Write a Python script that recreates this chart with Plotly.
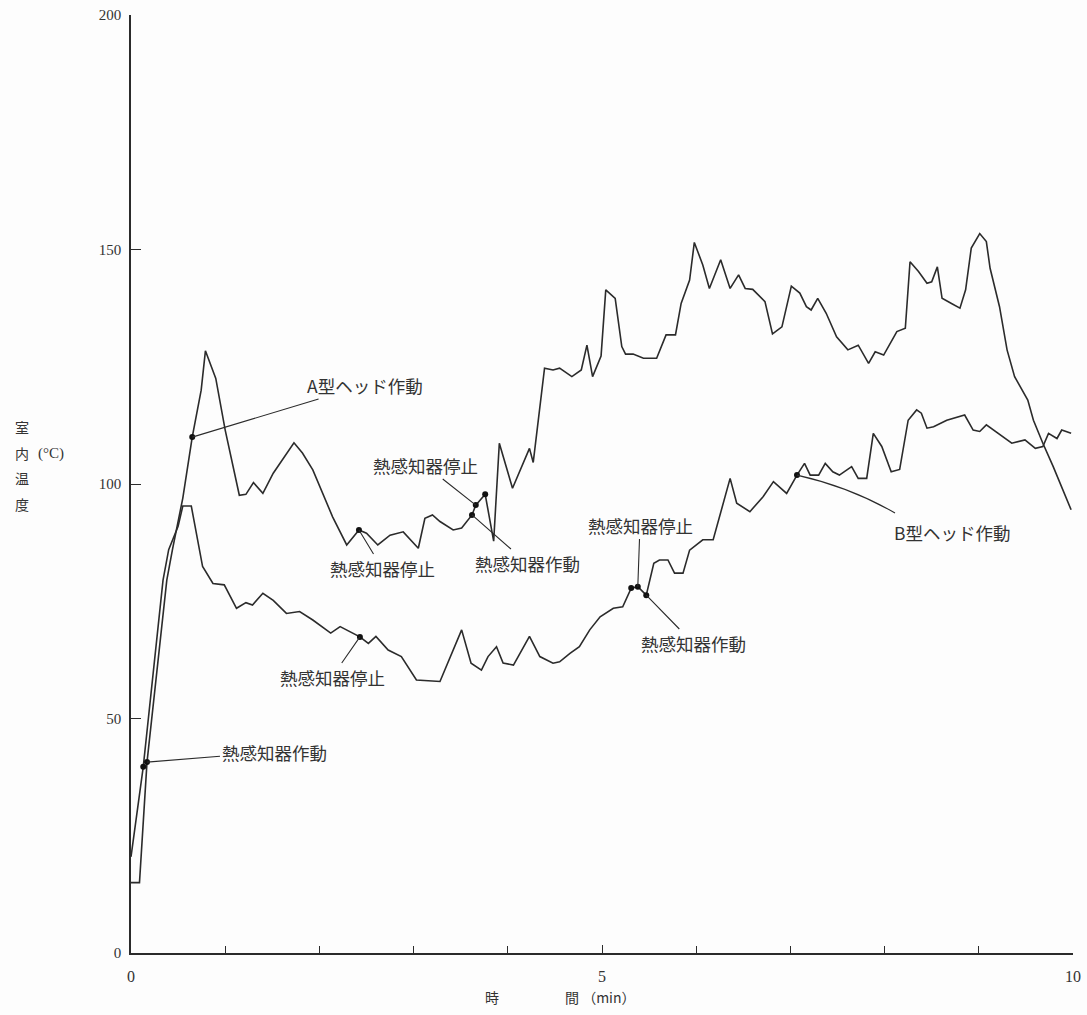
import plotly.graph_objects as go

# Room temperature (°C) against elapsed time (min), two measurement runs
upper_time = [0, 0.09, 0.17, 0.38, 0.44, 0.55, 0.65, 0.745, 0.79, 0.9, 1.0, 1.15, 1.22, 1.30,
              1.40, 1.51, 1.73, 1.82, 1.93, 2.14, 2.29, 2.36, 2.42, 2.50, 2.62, 2.75, 2.89,
              3.05, 3.12, 3.2, 3.28, 3.42, 3.51, 3.62, 3.66, 3.76, 3.85, 3.91, 4.05, 4.23,
              4.27, 4.39, 4.48, 4.55, 4.68, 4.78, 4.84, 4.9, 4.99, 5.04, 5.14, 5.21, 5.25,
              5.33, 5.44, 5.58, 5.68, 5.78, 5.84, 5.93, 5.98, 6.07, 6.14, 6.26, 6.36, 6.45,
              6.52, 6.6, 6.73, 6.81, 6.91, 7.01, 7.1, 7.17, 7.22, 7.29, 7.38, 7.49, 7.61,
              7.72, 7.77, 7.83, 7.9, 7.99, 8.13, 8.22, 8.27, 8.36, 8.45, 8.5, 8.56, 8.61,
              8.71, 8.8, 8.86, 8.92, 9.01, 9.08, 9.12, 9.22, 9.3, 9.38, 9.52, 9.58, 9.68,
              9.79, 9.98]
upper_temp = [15, 15, 40.7, 79.5, 86, 97, 110, 120, 128.4, 122.5, 111.5, 97.6, 97.8, 100.3,
              98, 102.3, 108.8, 106.6, 103, 93, 87, 88.8, 90.2, 89.5, 87, 89.1, 89.8,
              86.3, 92.7, 93.4, 92, 90.2, 90.6, 93.4, 95.5, 97.8, 87.8, 108.7, 99.1, 107.6,
              104.6, 124.7, 124.3, 124.7, 122.9, 124.3, 129.6, 122.9, 127.3, 141.4, 139.6, 129.3, 127.7,
              127.7, 126.8, 126.8, 131.8, 131.8, 138.5, 143.5, 151.5, 146.7, 141.7, 147.8, 141.7, 144.6,
              141.7, 141.5, 138.9, 132.0, 133.5, 142.2, 140.7, 137.8, 137.1, 139.6, 136.4, 131.4, 128.6,
              129.6, 127.9, 125.7, 128.2, 127.5, 132.5, 133.2, 147.4, 145.3, 142.8, 143.1, 146.3, 139.6,
              138.5, 137.5, 141.4, 150.3, 153.4, 151.7, 146, 137.8, 128.6, 122.9, 117.9, 113.6, 108.7,
              103.7, 94.5]

lower_time = [0, 0.13, 0.34, 0.40, 0.5, 0.55, 0.64, 0.68, 0.76, 0.87, 0.99, 1.12, 1.22, 1.29,
              1.40, 1.51, 1.65, 1.79, 1.93, 2.12, 2.22, 2.43, 2.52, 2.6, 2.73, 2.87, 3.03,
              3.28, 3.51, 3.61, 3.72, 3.79, 3.88, 3.95, 4.06, 4.23, 4.34, 4.48, 4.55, 4.66,
              4.76, 4.87, 4.98, 5.12, 5.22, 5.31, 5.38, 5.47, 5.55, 5.61, 5.7, 5.77, 5.86,
              5.93, 6.07, 6.18, 6.27, 6.36, 6.43, 6.57, 6.71, 6.82, 6.96, 7.07, 7.15, 7.21,
              7.3, 7.37, 7.45, 7.52, 7.65, 7.72, 7.81, 7.88, 7.97, 8.07, 8.16, 8.25, 8.34,
              8.39, 8.45, 8.52, 8.66, 8.85, 8.94, 9.01, 9.08, 9.21, 9.35, 9.49, 9.6, 9.68,
              9.74, 9.83, 9.88, 9.98]
lower_temp = [20.5, 39.7, 79.5, 86, 91, 95.3, 95.3, 91, 82.4, 78.8, 78.5, 73.5, 74.7, 74.2,
              76.7, 75.2, 72.4, 72.8, 71, 68.2, 69.6, 67.4, 66, 67.5, 64.6, 63.2, 58.2,
              57.9, 68.9, 61.8, 60.3, 63.2, 65.3, 61.8, 61.4, 67.5, 63.2, 61.8, 62.1, 63.9,
              65.3, 68.9, 71.7, 73.5, 73.8, 77.8, 78.1, 76.3, 83.1, 83.8, 83.8, 81, 81,
              85.9, 88.1, 88.1, 94.5, 101.2, 95.9, 94.1, 97.3, 100.5, 98, 101.9, 104.4, 101.9,
              101.9, 104.4, 102.6, 101.9, 103.7, 101.2, 101.2, 110.8, 108, 102.6, 103.1, 113.6, 115.8,
              115.1, 111.9, 112.2, 113.6, 114.7, 111.5, 111.2, 112.6, 110.8, 108.7, 109.4, 107.6, 108,
              110.8, 109.7, 111.5, 110.8]

# Times at which an event is marked with a dot on each run
upper_marked = [0.17, 0.65, 2.42, 3.62, 3.66, 3.76]
lower_marked = [0.13, 2.43, 5.31, 5.38, 5.47, 7.07]

x_ticks = [0, 5, 10]
y_ticks = [0, 50, 100, 150, 200]

# Event captions with a straight leader: text, run, marked time
captions = [
    ("A型ヘッド作動", "upper", 0.65),
    ("熱感知器作動", "upper", 0.17),
    ("熱感知器停止", "upper", 2.42),
    ("熱感知器停止", "lower", 2.43),
    ("熱感知器停止", "upper", 3.66),
    ("熱感知器作動", "upper", 3.62),
    ("熱感知器停止", "lower", 5.38),
    ("熱感知器作動", "lower", 5.47),
]
# Caption centres on the page (pixels)
caption_pos = [(365, 385), (274, 752), (382, 568), (332, 677), (425, 465),
               (527, 563), (640, 525), (693, 643)]

# Caption with a curved leader
b_caption = ("B型ヘッド作動", "lower", 7.07)
b_caption_pos = (952, 532)
b_leader_bend = (850, 487)   # control point of the leader curve (pixels)
b_leader_end = (895, 513)    # where the leader meets the caption (pixels)

W, H = 1087, 1015
M = dict(l=131, r=14, t=15, b=62)
X_RANGE = [0, 10]
Y_RANGE = [0, 200]
INK = "#2b2b2b"
TEXT = "#333"
JP = "Noto Sans CJK JP"
NUM = "Liberation Serif"
CAPTION_SIZE = 17.5


def to_data(px, py):
    pw = W - M["l"] - M["r"]
    ph = H - M["t"] - M["b"]
    x = X_RANGE[0] + (px - M["l"]) / pw * (X_RANGE[1] - X_RANGE[0])
    y = Y_RANGE[0] + (H - M["b"] - py) / ph * (Y_RANGE[1] - Y_RANGE[0])
    return x, y


def to_paper(px, py):
    pw = W - M["l"] - M["r"]
    ph = H - M["t"] - M["b"]
    return (px - M["l"]) / pw, (H - M["b"] - py) / ph


def page_text(text, px, py, family, size):
    x, y = to_paper(px, py)
    return dict(x=x, y=y, xref="paper", yref="paper", text=text, showarrow=False,
                xanchor="center", yanchor="middle",
                font=dict(family=family, size=size, color=TEXT))


runs = {"upper": (upper_time, upper_temp), "lower": (lower_time, lower_temp)}


def value_at(run, t):
    ts, vs = runs[run]
    return vs[ts.index(t)]


fig = go.Figure()
for name in ("upper", "lower"):
    ts, vs = runs[name]
    fig.add_trace(go.Scatter(x=ts, y=vs, mode="lines",
                             line=dict(color=INK, width=1.6),
                             showlegend=False, hoverinfo="skip"))

for name, marked in (("upper", upper_marked), ("lower", lower_marked)):
    fig.add_trace(go.Scatter(x=marked, y=[value_at(name, t) for t in marked],
                             mode="markers", marker=dict(color="#111", size=6),
                             showlegend=False, hoverinfo="skip"))

annotations = []
for (text, run, t), (px, py) in zip(captions, caption_pos):
    ax, ay = to_data(px, py)
    annotations.append(dict(
        x=t, y=value_at(run, t), xref="x", yref="y",
        ax=ax, ay=ay, axref="x", ayref="y",
        text=text, showarrow=True, arrowhead=0, arrowwidth=1.1,
        arrowcolor=INK, standoff=0,
        font=dict(family=JP, size=CAPTION_SIZE, color=TEXT),
    ))

# B-type head caption with a curved leader line
text, run, t = b_caption
bx, by = to_data(*b_caption_pos)
annotations.append(dict(x=bx, y=by, xref="x", yref="y", text=text, showarrow=False,
                        xanchor="center", yanchor="middle",
                        font=dict(family=JP, size=CAPTION_SIZE, color=TEXT)))
cx, cy = to_data(*b_leader_bend)
ex, ey = to_data(*b_leader_end)
fig.add_shape(type="path", xref="x", yref="y",
              path=f"M {t},{value_at(run, t)} Q {cx},{cy} {ex},{ey}",
              line=dict(color=INK, width=1.1))

# Vertical axis title, one character per line, plus the unit
for ch, py in zip("室内温度", [427, 453, 478, 504]):
    annotations.append(page_text(ch, 22, py, JP, 14))
annotations.append(page_text("(°C)", 51, 453, NUM, 15))

# Horizontal axis title
annotations.append(page_text("時", 492, 997, JP, 14))
annotations.append(page_text("間 （min）", 600, 997, JP, 14))

fig.update_layout(
    width=W, height=H, margin=M,
    paper_bgcolor="#fdfdfd", plot_bgcolor="#fdfdfd",
    annotations=annotations,
    xaxis=dict(range=X_RANGE, tickvals=x_ticks, ticktext=[str(v) for v in x_ticks],
               ticks="inside", ticklen=8, tickwidth=1.4, tickcolor=INK,
               showline=True, linecolor=INK, linewidth=1.6,
               showgrid=False, zeroline=False, automargin=False,
               ticklabelstandoff=8,
               tickfont=dict(family=NUM, size=16, color=TEXT),
               minor=dict(dtick=1, ticks="inside", ticklen=7, tickwidth=1.2,
                          tickcolor=INK, showgrid=False)),
    yaxis=dict(range=Y_RANGE, tickvals=y_ticks, ticktext=[str(v) for v in y_ticks],
               ticks="inside", ticklen=10, tickwidth=1.4, tickcolor=INK,
               showline=True, linecolor=INK, linewidth=1.6,
               showgrid=False, zeroline=False, automargin=False,
               ticklabelstandoff=5,
               tickfont=dict(family=NUM, size=15, color=TEXT)),
)

fig.write_html("out.html")
